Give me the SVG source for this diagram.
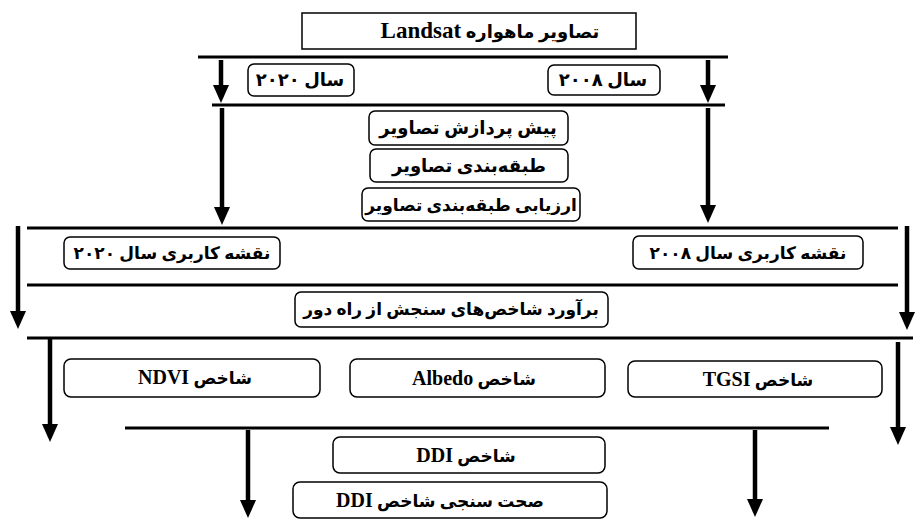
<svg xmlns="http://www.w3.org/2000/svg" width="915" height="519" viewBox="0 0 915 519">
<style>
.box{fill:#fff;stroke:#000;stroke-width:1.5}
.bar{stroke:#000;stroke-width:3;fill:none}
.shaft{stroke:#000;stroke-width:4.5;fill:none}
.t{font-family:"Liberation Serif","DejaVu Sans",serif;font-weight:bold;font-size:17px;fill:#000;text-anchor:middle;direction:rtl;unicode-bidi:embed}
.lat{font-size:20px}
</style>
<defs>
<marker id="ah" markerUnits="userSpaceOnUse" markerWidth="18" markerHeight="16" refX="0" refY="8" orient="auto" viewBox="0 0 18 16">
<path d="M0,0 L18,8 L0,16 z" fill="#000"/>
</marker>
</defs>
<rect width="915" height="519" fill="#fff"/>
<g id="connectors">
<line class="bar" x1="198" y1="57" x2="728" y2="57"/>
<line class="bar" x1="212" y1="105" x2="725" y2="105"/>
<line class="bar" x1="27" y1="228" x2="898" y2="228"/>
<line class="bar" x1="27" y1="285" x2="898" y2="285"/>
<line class="bar" x1="27" y1="338" x2="913" y2="338"/>
<line class="bar" x1="125" y1="428" x2="829" y2="428"/>
<line class="shaft" x1="221" y1="60" x2="221" y2="85" marker-end="url(#ah)"/>
<line class="shaft" x1="708" y1="60" x2="708" y2="85" marker-end="url(#ah)"/>
<line class="shaft" x1="222" y1="108" x2="222" y2="207" marker-end="url(#ah)"/>
<line class="shaft" x1="708" y1="108" x2="708" y2="205" marker-end="url(#ah)"/>
<line class="shaft" x1="18" y1="226" x2="18" y2="311" marker-end="url(#ah)"/>
<line class="shaft" x1="907" y1="226" x2="907" y2="312" marker-end="url(#ah)"/>
<line class="shaft" x1="50" y1="339" x2="50" y2="424" marker-end="url(#ah)"/>
<line class="shaft" x1="898" y1="342" x2="898" y2="427" marker-end="url(#ah)"/>
<line class="shaft" x1="248" y1="430" x2="248" y2="500" marker-end="url(#ah)"/>
<line class="shaft" x1="755" y1="430" x2="755" y2="499" marker-end="url(#ah)"/>
</g>
<g id="landsat">
<rect class="box" x="302" y="13" width="334" height="36"/>
<text class="t" x="490" y="38" style="font-size:18px">تصاویر ماهواره <tspan style="font-size:23px">Landsat</tspan></text>
</g>
<g id="year2020">
<rect class="box" x="248" y="64" width="106" height="32" rx="6"/>
<text class="t" x="300" y="86" style="font-size:18px">سال ۲۰۲۰</text>
</g>
<g id="year2008">
<rect class="box" x="548" y="65" width="112" height="30" rx="6"/>
<text class="t" x="603" y="86" style="font-size:18px">سال ۲۰۰۸</text>
</g>
<g id="preprocess">
<rect class="box" x="369" y="111" width="199" height="34" rx="6"/>
<text class="t" x="468" y="134" style="font-size:18px">پیش پردازش تصاویر</text>
</g>
<g id="classification">
<rect class="box" x="370" y="149" width="198" height="33" rx="6"/>
<text class="t" x="469" y="172" style="font-size:18px">طبقه‌بندی تصاویر</text>
</g>
<g id="assessment">
<rect class="box" x="362" y="188" width="218" height="33" rx="6"/>
<text class="t" x="471" y="211">ارزیابی طبقه‌بندی تصاویر</text>
</g>
<g id="map2020">
<rect class="box" x="64" y="237" width="216" height="32" rx="6"/>
<text class="t" x="172" y="259">نقشه کاربری سال ۲۰۲۰</text>
</g>
<g id="map2008">
<rect class="box" x="633" y="236" width="230" height="33" rx="6"/>
<text class="t" x="748" y="259">نقشه کاربری سال ۲۰۰۸</text>
</g>
<g id="estimate">
<rect class="box" x="295" y="292" width="313" height="35" rx="6"/>
<text class="t" x="451" y="315">برآورد شاخص‌های سنجش از راه دور</text>
</g>
<g id="ndvi">
<rect class="box" x="64" y="359" width="256" height="38" rx="7"/>
<text class="t" x="195" y="384">شاخص <tspan class="lat">NDVI</tspan></text>
</g>
<g id="albedo">
<rect class="box" x="350" y="359" width="255" height="38" rx="7"/>
<text class="t" x="474" y="385">شاخص <tspan class="lat">Albedo</tspan></text>
</g>
<g id="tgsi">
<rect class="box" x="628" y="361" width="254" height="36" rx="7"/>
<text class="t" x="758" y="386">شاخص <tspan class="lat">TGSI</tspan></text>
</g>
<g id="ddi">
<rect class="box" x="333" y="437" width="272" height="36" rx="7"/>
<text class="t" x="466" y="462">شاخص  <tspan class="lat">DDI</tspan></text>
</g>
<g id="ddiValidation">
<rect class="box" x="293" y="482" width="314" height="36" rx="7"/>
<text class="t" x="440" y="507">صحت سنجی شاخص  <tspan class="lat">DDI</tspan></text>
</g>
</svg>
